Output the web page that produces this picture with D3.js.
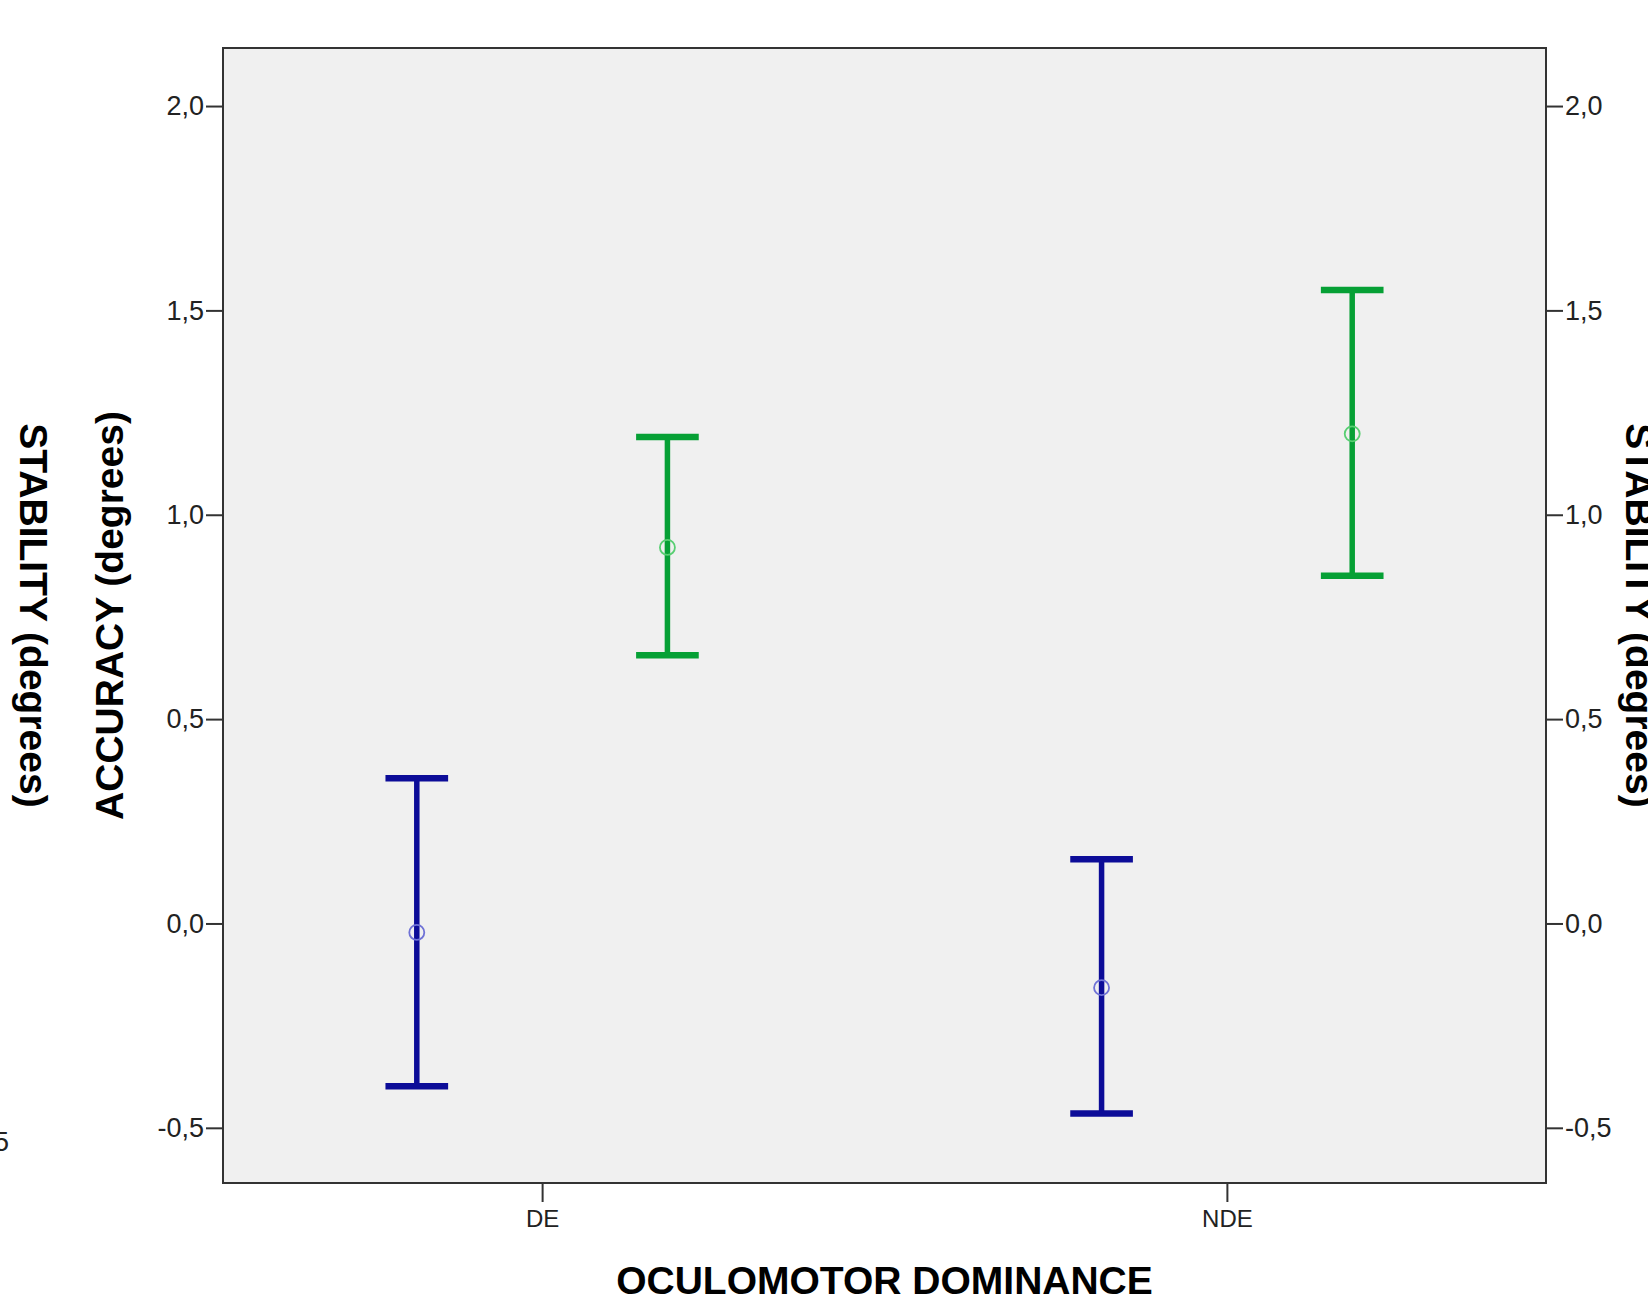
<!DOCTYPE html>
<html>
<head>
<meta charset="utf-8">
<script src="https://cdn.jsdelivr.net/npm/d3@7"></script>
<style>
  html, body { margin: 0; padding: 0; background: #fff; }
  svg { display: block; font-family: "Liberation Sans", Arial, sans-serif; }
  .tick text { fill: #222; }
</style>
</head>
<body>
<div class="chart-container"></div>
<script>
//! DATA
const groups = ['DE', 'NDE'];
const series = ['ACCURACY', 'STABILITY'];
const accuracyMean = [-0.022, -0.157];
const accuracyLow = [-0.398, -0.465];
const accuracyHigh = [0.355, 0.157];
const stabilityMean = [0.920, 1.198];
const stabilityLow = [0.656, 0.851];
const stabilityHigh = [1.190, 1.550];
const yTicks = [-0.5, 0, 0.5, 1.0, 1.5, 2.0];
const seriesColors = ['#0c0c98', '#06a035'];
const markerColors = ['#6f72d6', '#58cf72'];

//! CONSTS
const WIDTH = 1648;
const HEIGHT = 1306;
const M = { top: 48, right: 102, bottom: 123, left: 223 };

const locale = d3.formatLocale({
  decimal: ',', thousands: '.', grouping: [3], currency: ['', ''], minus: '-'
});
const fmt = locale.format('.1f');

// rows for error bars
const rows = [];
groups.forEach((g, i) => {
  rows.push({ group: g, key: series[0], mean: accuracyMean[i], low: accuracyLow[i], high: accuracyHigh[i], c: 0 });
  rows.push({ group: g, key: series[1], mean: stabilityMean[i], low: stabilityLow[i], high: stabilityHigh[i], c: 1 });
});

//! SVG
const svg = d3.select('.chart-container')
  .append('svg')
  .attr('width', WIDTH)
  .attr('height', HEIGHT);

const x0 = M.left, x1 = WIDTH - M.right;
const y0 = HEIGHT - M.bottom, y1 = M.top;

//! SCALES
const x = d3.scalePoint()
  .domain(groups)
  .range([x0, x1])
  .padding(0.466);

const sub = d3.scaleBand()
  .domain(series)
  .range([-0.366 * x.step(), 0.366 * x.step()]);

const y = d3.scaleLinear()
  .domain([-0.635, 2.142])
  .range([y0, y1]);

// plot background
svg.append('rect')
  .attr('x', x0).attr('y', y1)
  .attr('width', x1 - x0).attr('height', y0 - y1)
  .attr('fill', '#f0f0f0');

//! ERROR BARS
const bars = svg.append('g').selectAll('g')
  .data(rows)
  .enter()
  .append('g')
  .attr('transform', d => `translate(${x(d.group) + sub(d.key) + sub.bandwidth() / 2},0)`);

const capHalf = sub.bandwidth() * 0.125;

bars.append('line')
  .attr('y1', d => y(d.low)).attr('y2', d => y(d.high))
  .attr('stroke', d => seriesColors[d.c])
  .attr('stroke-width', 5.5);

bars.selectAll('.cap')
  .data(d => [d, d].map((v, k) => ({ v: k ? v.high : v.low, c: v.c })))
  .enter()
  .append('line')
  .attr('class', 'cap')
  .attr('x1', -capHalf).attr('x2', capHalf)
  .attr('y1', d => y(d.v)).attr('y2', d => y(d.v))
  .attr('stroke', d => seriesColors[d.c])
  .attr('stroke-width', 6.5);

bars.append('circle')
  .attr('cy', d => y(d.mean))
  .attr('r', 7.5)
  .attr('fill', 'none')
  .attr('stroke', d => markerColors[d.c])
  .attr('stroke-width', 1.8);

// frame
svg.append('rect')
  .attr('x', x0).attr('y', y1)
  .attr('width', x1 - x0).attr('height', y0 - y1)
  .attr('fill', 'none')
  .attr('stroke', '#333')
  .attr('stroke-width', 2);

//! AXES
const left = svg.append('g')
  .attr('transform', `translate(${x0},0)`)
  .call(d3.axisLeft(y).tickValues(yTicks).tickFormat(fmt).tickSize(17).tickPadding(2));

const right = svg.append('g')
  .attr('transform', `translate(${x1},0)`)
  .call(d3.axisRight(y).tickValues(yTicks).tickFormat(fmt).tickSize(17).tickPadding(2));

const bottom = svg.append('g')
  .attr('transform', `translate(0,${y0})`)
  .call(d3.axisBottom(x).tickSize(19).tickPadding(8));

[left, right, bottom].forEach(a => {
  a.select('.domain').remove();
  a.selectAll('.tick line').attr('stroke', '#333').attr('stroke-width', 2);
});
left.selectAll('text').style('font-size', '27px');
right.selectAll('text').style('font-size', '27px');
bottom.selectAll('text').style('font-size', '24px');

//! TITLES
const cy = (y0 + y1) / 2;

svg.append('text')
  .attr('transform', `translate(${(x0 + x1) / 2},1294)`)
  .attr('text-anchor', 'middle')
  .style('font-size', '39px').style('font-weight', 'bold')
  .text('OCULOMOTOR DOMINANCE');

svg.append('text')
  .attr('transform', `translate(123,${cy}) rotate(-90)`)
  .attr('text-anchor', 'middle')
  .style('font-size', '39px').style('font-weight', 'bold')
  .text('ACCURACY (degrees)');

svg.append('text')
  .attr('transform', `translate(20,${cy}) rotate(90)`)
  .attr('text-anchor', 'middle')
  .style('font-size', '39px').style('font-weight', 'bold')
  .text('STABILITY (degrees)');

svg.append('text')
  .attr('transform', `translate(1626,${cy}) rotate(90)`)
  .attr('text-anchor', 'middle')
  .style('font-size', '39px').style('font-weight', 'bold')
  .text('STABILITY (degrees)');

// stray tick label from a neighbouring axis, cut by the left edge
svg.append('text')
  .attr('x', 9).attr('y', 1151)
  .attr('text-anchor', 'end')
  .style('font-size', '27px')
  .attr('fill', '#222')
  .text(fmt(-0.5));
</script>
</body>
</html>
